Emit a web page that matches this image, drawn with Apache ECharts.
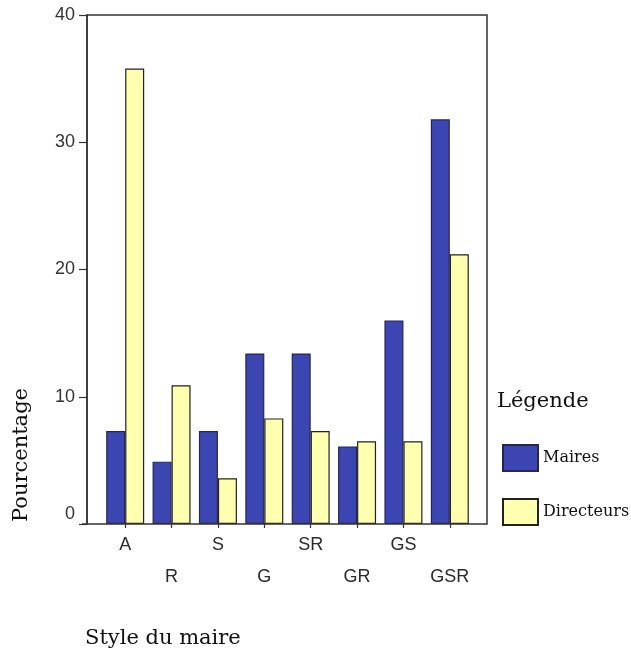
<!DOCTYPE html>
<html>
<head>
<meta charset="utf-8">
<script src="https://cdn.jsdelivr.net/npm/echarts@6/dist/echarts.min.js"></script>
<style>html,body{margin:0;padding:0;background:#fff}#c{width:631px;height:653px}</style>
</head>
<body>
<div id="c"></div>
<script>
var categories = ['A', 'R', 'S', 'G', 'SR', 'GR', 'GS', 'GSR'];
var maires = [7.3, 4.9, 7.3, 13.4, 13.4, 6.1, 16.0, 31.8];
var directeurs = [35.8, 10.9, 3.6, 8.3, 7.3, 6.5, 6.5, 21.2];
var yTicks = [0, 10, 20, 30, 40];

var chart = echarts.init(document.getElementById('c'), null, {renderer: 'canvas'});
var serif = '"DejaVu Serif", "Liberation Serif", serif';
var sans = '"Liberation Sans", Arial, sans-serif';
chart.setOption({
  animation: false,
  backgroundColor: '#fff',
  grid: {left: 102, right: 158, top: 15, bottom: 129},
  xAxis: {
    type: 'category',
    data: categories,
    boundaryGap: true,
    axisLine: {show: false},
    axisTick: {show: true, alignWithLabel: true, length: 4, lineStyle: {color: '#333', width: 1.2}},
    axisLabel: {
      interval: 0,
      margin: 5,
      fontFamily: sans,
      fontSize: 18,
      lineHeight: 32,
      color: '#2a2a2a',
      formatter: function (v, i) { return (i % 2 === 1 ? '\n' : '') + v; }
    }
  },
  yAxis: {
    type: 'value',
    min: yTicks[0],
    max: yTicks[yTicks.length - 1],
    interval: 10,
    offset: 15,
    splitLine: {show: false},
    axisLine: {show: true, lineStyle: {color: '#333', width: 1.5}},
    axisTick: {show: true, length: 8, lineStyle: {color: '#333', width: 1.2}},
    axisLabel: {
      fontFamily: sans, fontSize: 18, color: '#333', margin: 12,
      formatter: function (v) { return v === 0 ? '{z|0}' : String(v); },
      rich: {z: {fontFamily: sans, fontSize: 18, color: '#333', padding: [0, 0, 20, 0]}}
    }
  },
  legend: {
    orient: 'vertical',
    left: 497,
    top: 439,
    itemWidth: 35,
    itemHeight: 26,
    itemGap: 26,
    icon: 'rect',
    textStyle: {fontFamily: serif, fontSize: 16, color: '#111'},
    data: ['Maires', 'Directeurs']
  },
  graphic: [
    {type: 'rect', shape: {x: 87, y: 15, width: 400, height: 509}, style: {fill: 'none', stroke: '#333', lineWidth: 1.5}, z: 10},
    {type: 'line', shape: {x1: 82, y1: 524, x2: 87, y2: 524}, style: {stroke: '#333', lineWidth: 1.5}, z: 10},
    {type: 'text', x: 497, y: 402, style: {text: 'Légende', fontFamily: serif, fontSize: 21, fill: '#111', textVerticalAlign: 'middle'}},
    {type: 'text', x: 85, y: 639, style: {text: 'Style du maire', fontFamily: serif, fontSize: 21, fill: '#111', textVerticalAlign: 'middle'}},
    {type: 'text', x: 22, y: 455, rotation: Math.PI / 2, style: {text: 'Pourcentage', fontFamily: serif, fontSize: 21, fill: '#111', textAlign: 'center', textVerticalAlign: 'middle'}}
  ],
  series: [
    {name: 'Maires', type: 'bar', data: maires, barWidth: 19, barGap: '0%',
     itemStyle: {color: '#3c46b2', borderColor: '#2a2450', borderWidth: 1.2}},
    {name: 'Directeurs', type: 'bar', data: directeurs, barWidth: 19,
     itemStyle: {color: '#ffffb0', borderColor: '#222', borderWidth: 1.2}}
  ]
});
</script>
</body>
</html>
